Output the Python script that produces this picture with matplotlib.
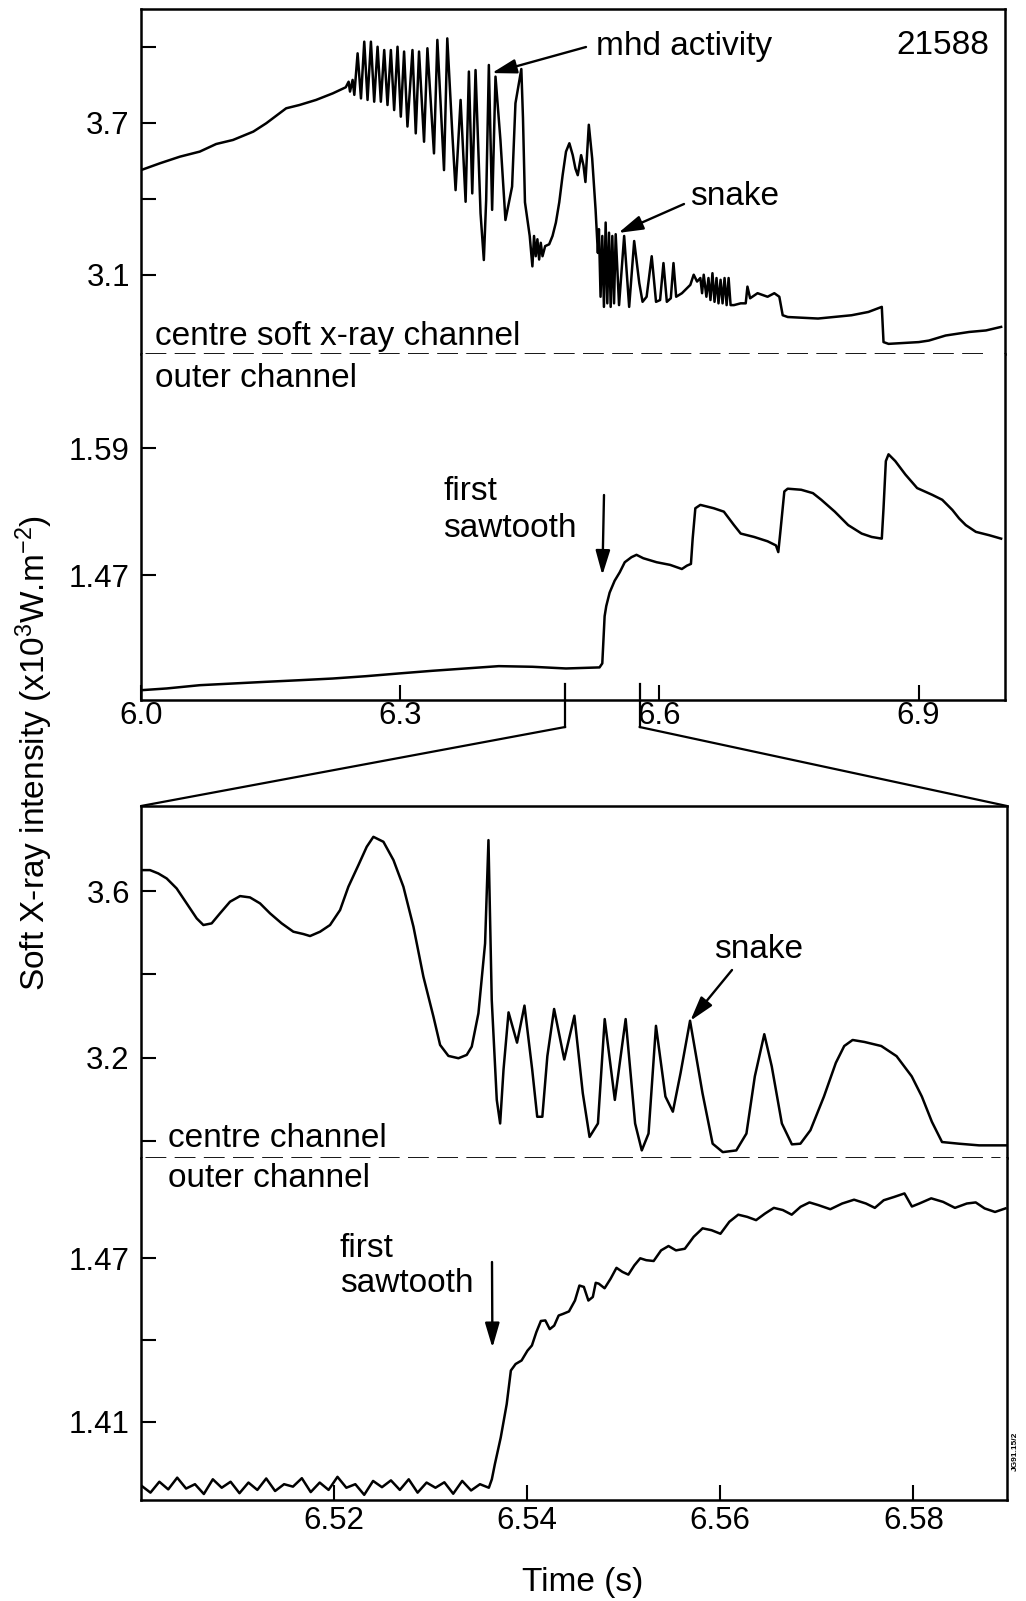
import matplotlib
matplotlib.use("Agg")
import matplotlib.pyplot as plt
from matplotlib.patches import ConnectionPatch

plt.rcParams['font.family'] = ['Liberation Sans', 'DejaVu Sans']
plt.rcParams['mathtext.default'] = 'regular'
plt.rcParams['lines.scale_dashes'] = False

# ---- data (shot 21588) ----
# overview, centre soft x-ray channel (x10^3 W/m^2)
top_centre_t = [6.000, 6.022, 6.045, 6.068, 6.087, 6.1065, 6.130, 6.145, 6.168, 6.1834, 6.2026, 6.222, 6.237,
                6.2403, 6.2419, 6.2449, 6.2469, 6.2507, 6.2546, 6.2584, 6.2622, 6.2661, 6.2699, 6.2738, 6.2776,
                6.2815, 6.2853, 6.2892, 6.2930, 6.2969, 6.3007, 6.3045, 6.3084, 6.3142, 6.3180, 6.3218, 6.3276,
                6.3315, 6.3391, 6.3430, 6.3507, 6.3545, 6.3603, 6.3641, 6.3699, 6.3757, 6.3795, 6.3834, 6.3872,
                6.3930, 6.3968, 6.3995, 6.4026, 6.4064, 6.4103, 6.4160, 6.4218, 6.4295, 6.4334,
                6.4402, 6.4421, 6.4444, 6.4472, 6.4499, 6.4530, 6.4549, 6.4569, 6.4588, 6.4608, 6.4627, 6.4647,
                6.4678, 6.4724, 6.4763, 6.4802, 6.4841, 6.4880, 6.4919, 6.4958, 6.4997, 6.5028, 6.5055, 6.5094,
                6.5121, 6.5144, 6.5183, 6.5222, 6.5261, 6.5288, 6.5300, 6.5319, 6.5339, 6.5358, 6.5378, 6.5397,
                6.5417, 6.5436, 6.5455, 6.5475, 6.5494, 6.5533, 6.5592, 6.5650, 6.5708, 6.5767, 6.5805, 6.5852,
                6.5911, 6.5961, 6.6008, 6.6047, 6.6086, 6.6132, 6.6163, 6.6194, 6.6261, 6.6319, 6.6358, 6.6397,
                6.6436, 6.6474, 6.6494, 6.6513, 6.6544, 6.6568, 6.6591, 6.6614, 6.6638, 6.6661, 6.6684, 6.6708,
                6.6731, 6.6754, 6.6778, 6.6801, 6.6824, 6.6863, 6.6941, 6.6999, 6.7019, 6.7050, 6.7136, 6.7252,
                6.7330, 6.7388, 6.7427, 6.7486, 6.7836, 6.8224, 6.8419, 6.8574, 6.8594, 6.8652, 6.9002, 6.9119,
                6.9313, 6.9585, 6.9780, 6.9955]
top_centre = [3.514, 3.541, 3.567, 3.587, 3.617, 3.633, 3.666, 3.699, 3.758, 3.771, 3.791, 3.817, 3.841,
              3.863, 3.824, 3.870, 3.811, 3.975, 3.797, 4.021, 3.791, 4.021, 3.784, 4.001, 3.784,
              3.988, 3.771, 3.988, 3.751, 4.001, 3.725, 3.982, 3.686, 3.988, 3.659, 3.982, 3.626,
              3.995, 3.580, 4.028, 3.514, 4.034, 3.659, 3.435, 3.791, 3.389, 3.903, 3.422, 3.909,
              3.343, 3.159, 3.396, 3.929, 3.357, 3.883, 3.633, 3.317, 3.449, 3.778,
              3.913, 3.720, 3.387, 3.320, 3.254, 3.134, 3.254, 3.174, 3.241, 3.161, 3.227, 3.174,
              3.214, 3.221, 3.254, 3.307, 3.387, 3.494, 3.587, 3.620, 3.573, 3.520, 3.494, 3.573,
              3.533, 3.467, 3.693, 3.560, 3.360, 3.187, 3.281, 3.014, 3.254, 2.974, 3.307, 2.988,
              3.267, 2.974, 3.254, 2.988, 3.261, 2.981, 3.254, 2.974, 3.234, 3.068, 2.994, 3.014,
              3.174, 2.994, 3.001, 3.147, 2.994, 3.008, 3.147, 3.014, 3.028, 3.048, 3.061, 3.101,
              3.074, 3.088, 3.028, 3.101, 3.014, 3.088, 3.001, 3.107, 2.994, 3.088, 2.988, 3.081,
              2.988, 3.088, 2.981, 3.088, 2.981, 2.981, 2.988, 2.988, 3.054, 3.008, 3.028, 3.014,
              3.028, 3.014, 2.941, 2.934, 2.928, 2.941, 2.954, 2.974, 2.835, 2.828, 2.835, 2.841,
              2.861, 2.875, 2.881, 2.895]

# overview, outer channel
top_outer_t = [6.0008, 6.0296, 6.0681, 6.1065, 6.1450, 6.1834, 6.2218, 6.2603, 6.2987, 6.3372, 6.3756, 6.4141,
               6.4530, 6.4919, 6.5307, 6.5339, 6.5366, 6.5385, 6.5424, 6.5482, 6.5541, 6.5599, 6.5677, 6.5735,
               6.5813, 6.5968, 6.6124, 6.6260, 6.6319, 6.6365, 6.6385, 6.6416, 6.6474, 6.6630, 6.6746, 6.6805,
               6.6863, 6.6941, 6.7096, 6.7252, 6.7349, 6.7376, 6.7400, 6.7446, 6.7485, 6.7641, 6.7777, 6.7874,
               6.8030, 6.8185, 6.8341, 6.8457, 6.8574, 6.8594, 6.8621, 6.8652, 6.8730, 6.8847, 6.8983, 6.9158,
               6.9274, 6.9391, 6.9469, 6.9546, 6.9663, 6.9819, 6.9955]
top_outer = [1.3613, 1.3629, 1.3660, 1.3676, 1.3692, 1.3707, 1.3723, 1.3745, 1.3771, 1.3796, 1.3818, 1.3840,
             1.3834, 1.3818, 1.3828, 1.3866, 1.4312, 1.4408, 1.4535, 1.4647, 1.4727, 1.4822, 1.4870, 1.4892,
             1.4860, 1.4822, 1.4797, 1.4758, 1.4790, 1.4806, 1.5045, 1.5332, 1.5364, 1.5332, 1.5300, 1.5236,
             1.5173, 1.5093, 1.5061, 1.5020, 1.4981, 1.4918, 1.5109, 1.5491, 1.5517, 1.5507, 1.5475, 1.5412,
             1.5300, 1.5173, 1.5093, 1.5061, 1.5045, 1.5332, 1.5778, 1.5842, 1.5778, 1.5651, 1.5523, 1.5459,
             1.5412, 1.5316, 1.5236, 1.5173, 1.5109, 1.5077, 1.5045]

# expanded window, centre channel
zoom_centre_t = [6.50007, 6.50093, 6.50179, 6.50266, 6.50369, 6.50473, 6.50577, 6.50646, 6.50732, 6.50818,
                 6.50922, 6.51026, 6.51129, 6.51233, 6.51337, 6.51457, 6.51578, 6.51682, 6.51751, 6.51855,
                 6.51958, 6.52062, 6.52148, 6.52252, 6.52338, 6.52407, 6.52511, 6.52615, 6.52718, 6.52822,
                 6.52925, 6.53029, 6.53098, 6.53184, 6.53288, 6.53374, 6.53426, 6.53495, 6.53564, 6.53599,
                 6.53633, 6.53685, 6.53720, 6.53755, 6.53807, 6.53895, 6.53972, 6.54052, 6.54104, 6.54157,
                 6.54209, 6.54279, 6.54384, 6.54489, 6.54576, 6.54646, 6.54733, 6.54803, 6.54908, 6.55020,
                 6.55118, 6.55187, 6.55257, 6.55334, 6.55432, 6.55509, 6.55589, 6.55687, 6.55816, 6.55921,
                 6.56026, 6.56166, 6.56271, 6.56358, 6.56456, 6.56533, 6.56638, 6.56742, 6.56830, 6.56934,
                 6.57074, 6.57197, 6.57284, 6.57371, 6.57494, 6.57668, 6.57826, 6.57983, 6.58088, 6.58192,
                 6.58297, 6.58472, 6.58681, 6.58961]
zoom_centre = [3.6503, 3.6503, 3.6423, 3.6303, 3.6064, 3.5705, 3.5345, 3.5186, 3.5226, 3.5465,
               3.5745, 3.5880, 3.5848, 3.5705, 3.5465, 3.5226, 3.5026, 3.4970, 3.4922, 3.5026,
               3.5186, 3.5545, 3.6104, 3.6623, 3.7062, 3.7301, 3.7182, 3.6743, 3.6104, 3.5146,
               3.3948, 3.2990, 3.2311, 3.2048, 3.1992, 3.2072, 3.2271, 3.3070, 3.4746, 3.7222,
               3.3389, 3.0994, 3.0428, 3.1720, 3.3092, 3.2366, 3.3254, 3.1720, 3.0589, 3.0589,
               3.2042, 3.3173, 3.1962, 3.3012, 3.1154, 3.0105, 3.0428, 3.2931, 3.0993, 3.2931,
               3.0428, 2.9782, 3.0186, 3.2769, 3.1074, 3.0710, 3.1639, 3.2891, 3.1154, 2.9943,
               2.9741, 2.9782, 3.0186, 3.1558, 3.2568, 3.1800, 3.0428, 2.9927, 2.9943, 3.0266,
               3.1074, 3.1881, 3.2285, 3.2430, 3.2382, 3.2285, 3.2042, 3.1558, 3.1074, 3.0468,
               2.9983, 2.9943, 2.9903, 2.9903]

# expanded window, outer channel
zoom_outer_t = [6.50006, 6.50098, 6.50190, 6.50282, 6.50375, 6.50467, 6.50559, 6.50651, 6.50744, 6.50836,
                6.50928, 6.51020, 6.51113, 6.51205, 6.51297, 6.51389, 6.51482, 6.51574, 6.51666, 6.51758,
                6.51851, 6.51943, 6.52035, 6.52127, 6.52220, 6.52312, 6.52404, 6.52496, 6.52589, 6.52681,
                6.52773, 6.52865, 6.52958, 6.53050, 6.53142, 6.53234, 6.53327, 6.53419, 6.53511, 6.53603,
                6.53634, 6.53665, 6.53726, 6.53788, 6.53831, 6.53880, 6.53942, 6.54003, 6.54049, 6.54095,
                6.54142, 6.54188, 6.54234, 6.54280, 6.54326, 6.54372, 6.54433, 6.54495, 6.54541, 6.54587,
                6.54634, 6.54680, 6.54710, 6.54741, 6.54802, 6.54864, 6.54925, 6.54987, 6.55048, 6.55110,
                6.55171, 6.55233, 6.55310, 6.55387, 6.55464, 6.55541, 6.55633, 6.55725, 6.55817, 6.55910,
                6.56002, 6.56094, 6.56186, 6.56279, 6.56371, 6.56463, 6.56555, 6.56648, 6.56740, 6.56832,
                6.56924, 6.57017, 6.57140, 6.57263, 6.57386, 6.57509, 6.57601, 6.57693, 6.57800, 6.57908,
                6.57985, 6.58062, 6.58185, 6.58308, 6.58431, 6.58554, 6.58646, 6.58738, 6.58846, 6.58954]
zoom_outer = [1.3865, 1.3840, 1.3880, 1.3852, 1.3895, 1.3855, 1.3871, 1.3835, 1.3889, 1.3858,
              1.3880, 1.3838, 1.3877, 1.3850, 1.3892, 1.3846, 1.3871, 1.3862, 1.3893, 1.3842,
              1.3877, 1.3850, 1.3898, 1.3858, 1.3871, 1.3832, 1.3883, 1.3860, 1.3885, 1.3850,
              1.3889, 1.3840, 1.3877, 1.3858, 1.3878, 1.3836, 1.3883, 1.3848, 1.3871, 1.3858,
              1.3889, 1.3944, 1.4042, 1.4165, 1.4288, 1.4312, 1.4325, 1.4361, 1.4380, 1.4429,
              1.4470, 1.4472, 1.4440, 1.4453, 1.4490, 1.4496, 1.4505, 1.4545, 1.4600, 1.4595,
              1.4545, 1.4558, 1.4610, 1.4607, 1.4590, 1.4625, 1.4665, 1.4650, 1.4640, 1.4674,
              1.4700, 1.4693, 1.4690, 1.4729, 1.4745, 1.4729, 1.4735, 1.4779, 1.4810, 1.4803,
              1.4790, 1.4834, 1.4860, 1.4852, 1.4840, 1.4864, 1.4885, 1.4877, 1.4860, 1.4889,
              1.4905, 1.4895, 1.4880, 1.4901, 1.4915, 1.4901, 1.4885, 1.4913, 1.4925, 1.4938,
              1.4890, 1.4901, 1.4920, 1.4907, 1.4885, 1.4901, 1.4905, 1.4883, 1.4870, 1.4883]

zoom_window = [6.491, 6.577]     # bracket marks on the overview time axis

top_xticks = [6.0, 6.3, 6.6, 6.9]
top_centre_ticks, top_centre_labels = [3.1, 3.4, 3.7, 4.0], ['3.1', '', '3.7', '']
top_outer_ticks, top_outer_labels = [1.47, 1.59], ['1.47', '1.59']
zoom_xticks = [6.52, 6.54, 6.56, 6.58]
zoom_centre_ticks, zoom_centre_labels = [3.0, 3.2, 3.4, 3.6], ['', '3.2', '', '3.6']
zoom_outer_ticks, zoom_outer_labels = [1.41, 1.44, 1.47], ['1.41', '', '1.47']

# ---- figure ----
W, H = 1026, 1601
fig = plt.figure(figsize=(W / 100, H / 100), dpi=100)


def fr(x, y):
    # top-left pixel -> figure fraction
    return x / W, 1 - y / H


def box(x0, x1, y0, y1):
    return [x0 / W, 1 - y1 / H, (x1 - x0) / W, (y1 - y0) / H]


ax_tc = fig.add_axes(box(141, 1005, 9, 354))
ax_to = fig.add_axes(box(141, 1005, 354, 700))
ax_bc = fig.add_axes(box(141, 1007, 806, 1158))
ax_bo = fig.add_axes(box(141, 1007, 1158, 1500))

LW = 1.8
FS = 24
TFS = 22.5

for ax in (ax_tc, ax_to, ax_bc, ax_bo):
    for s in ax.spines.values():
        s.set_linewidth(1.8)
    ax.tick_params(direction='in', length=11, width=1.5, labelsize=TFS, pad=8,
                   top=False, right=False)

ax_tc.plot(top_centre_t, top_centre, color='black', lw=LW)
ax_tc.set_xlim(6.0, 7.0)
ax_tc.set_ylim(2.788, 4.15)
ax_tc.set_yticks(top_centre_ticks, top_centre_labels)
ax_tc.set_xticks([])
ax_tc.spines['bottom'].set_visible(False)

ax_to.plot(top_outer_t, top_outer, color='black', lw=LW)
ax_to.set_xlim(6.0, 7.0)
ax_to.set_ylim(1.352, 1.679)
ax_to.set_yticks(top_outer_ticks, top_outer_labels)
ax_to.set_xticks(top_xticks, [f'{v:.1f}' for v in top_xticks])
ax_to.tick_params(axis='x', pad=1)
ax_to.spines['top'].set_visible(False)

ax_bc.plot(zoom_centre_t, zoom_centre, color='black', lw=LW)
ax_bc.set_xlim(6.50, 6.5897)
ax_bc.set_ylim(2.96, 3.804)
ax_bc.set_yticks(zoom_centre_ticks, zoom_centre_labels)
ax_bc.set_xticks([])
ax_bc.spines['bottom'].set_visible(False)

ax_bo.plot(zoom_outer_t, zoom_outer, color='black', lw=LW)
ax_bo.set_xlim(6.50, 6.5897)
ax_bo.set_ylim(1.3813, 1.5068)
ax_bo.set_yticks(zoom_outer_ticks, zoom_outer_labels)
ax_bo.set_xticks(zoom_xticks, [f'{v:.2f}' for v in zoom_xticks])
ax_bo.tick_params(axis='x', pad=4)
ax_bo.spines['top'].set_visible(False)

# dashed separators between the two channels
dash = (0, (15, 6))
ax_tc.plot([0.005, 0.983], [0, 0], transform=ax_tc.transAxes, color='black', lw=2.0,
           ls=dash, clip_on=False)
ax_bc.plot([0.005, 0.992], [0, 0], transform=ax_bc.transAxes, color='black', lw=2.0,
           ls=dash, clip_on=False)

# bracket showing the expanded window
for t, corner in zip(zoom_window, (0, 1)):
    ax_to.plot([t, t], [0.046, -0.078], transform=ax_to.get_xaxis_transform(),
               color='black', lw=1.6, clip_on=False)
    con = ConnectionPatch(xyA=(t, -0.078), coordsA=ax_to.get_xaxis_transform(),
                          xyB=(corner, 1), coordsB=ax_bc.transAxes, color='black', lw=1.6)
    fig.add_artist(con)

# channel labels
fig.text(*fr(155, 345), 'centre soft x-ray channel', fontsize=FS, va='baseline')
fig.text(*fr(155, 387), 'outer channel', fontsize=FS, va='baseline')
fig.text(*fr(168, 1147), 'centre channel', fontsize=FS, va='baseline')
fig.text(*fr(168, 1187), 'outer channel', fontsize=FS, va='baseline')

fig.text(*fr(989, 54), '21588', fontsize=FS, ha='right', va='baseline')
fig.text(*fr(596, 55), 'mhd activity', fontsize=FS, va='baseline')
fig.text(*fr(690, 205), 'snake', fontsize=FS, va='baseline')
fig.text(*fr(443, 500), 'first', fontsize=FS, va='baseline')
fig.text(*fr(443, 537), 'sawtooth', fontsize=FS, va='baseline')
fig.text(*fr(714, 958), 'snake', fontsize=FS, va='baseline')
fig.text(*fr(340, 1257), 'first', fontsize=FS, va='baseline')
fig.text(*fr(340, 1292), 'sawtooth', fontsize=FS, va='baseline')

arrow = dict(arrowstyle='-|>,head_length=0.75,head_width=0.22', color='black', lw=1.7,
             mutation_scale=20, shrinkA=0, shrinkB=0)
ax_tc.annotate('', xy=(6.406, 3.897), xytext=fr(586, 47), textcoords='figure fraction', arrowprops=arrow)
ax_tc.annotate('', xy=(6.5525, 3.266), xytext=fr(684, 204), textcoords='figure fraction', arrowprops=arrow)
ax_to.annotate('', xy=(6.534, 1.47), xytext=fr(604, 495), textcoords='figure fraction', arrowprops=arrow)
ax_bc.annotate('', xy=(6.5569, 3.289), xytext=fr(732, 970), textcoords='figure fraction', arrowprops=arrow)
ax_bo.annotate('', xy=(6.5364, 1.4372), xytext=fr(492, 1262), textcoords='figure fraction', arrowprops=arrow)

fig.text(*fr(34, 753), 'Soft X-ray intensity (x10$^3$W.m$^{-2}$)', fontsize=FS,
         rotation=90, ha='center', va='center')
fig.text(*fr(583, 1582), 'Time (s)', fontsize=FS, ha='center', va='center')
fig.text(*fr(1015, 1451), 'JG91.15/2', fontsize=6, fontweight='bold', rotation=90,
         ha='center', va='center')

fig.savefig('out.png', dpi=100)
